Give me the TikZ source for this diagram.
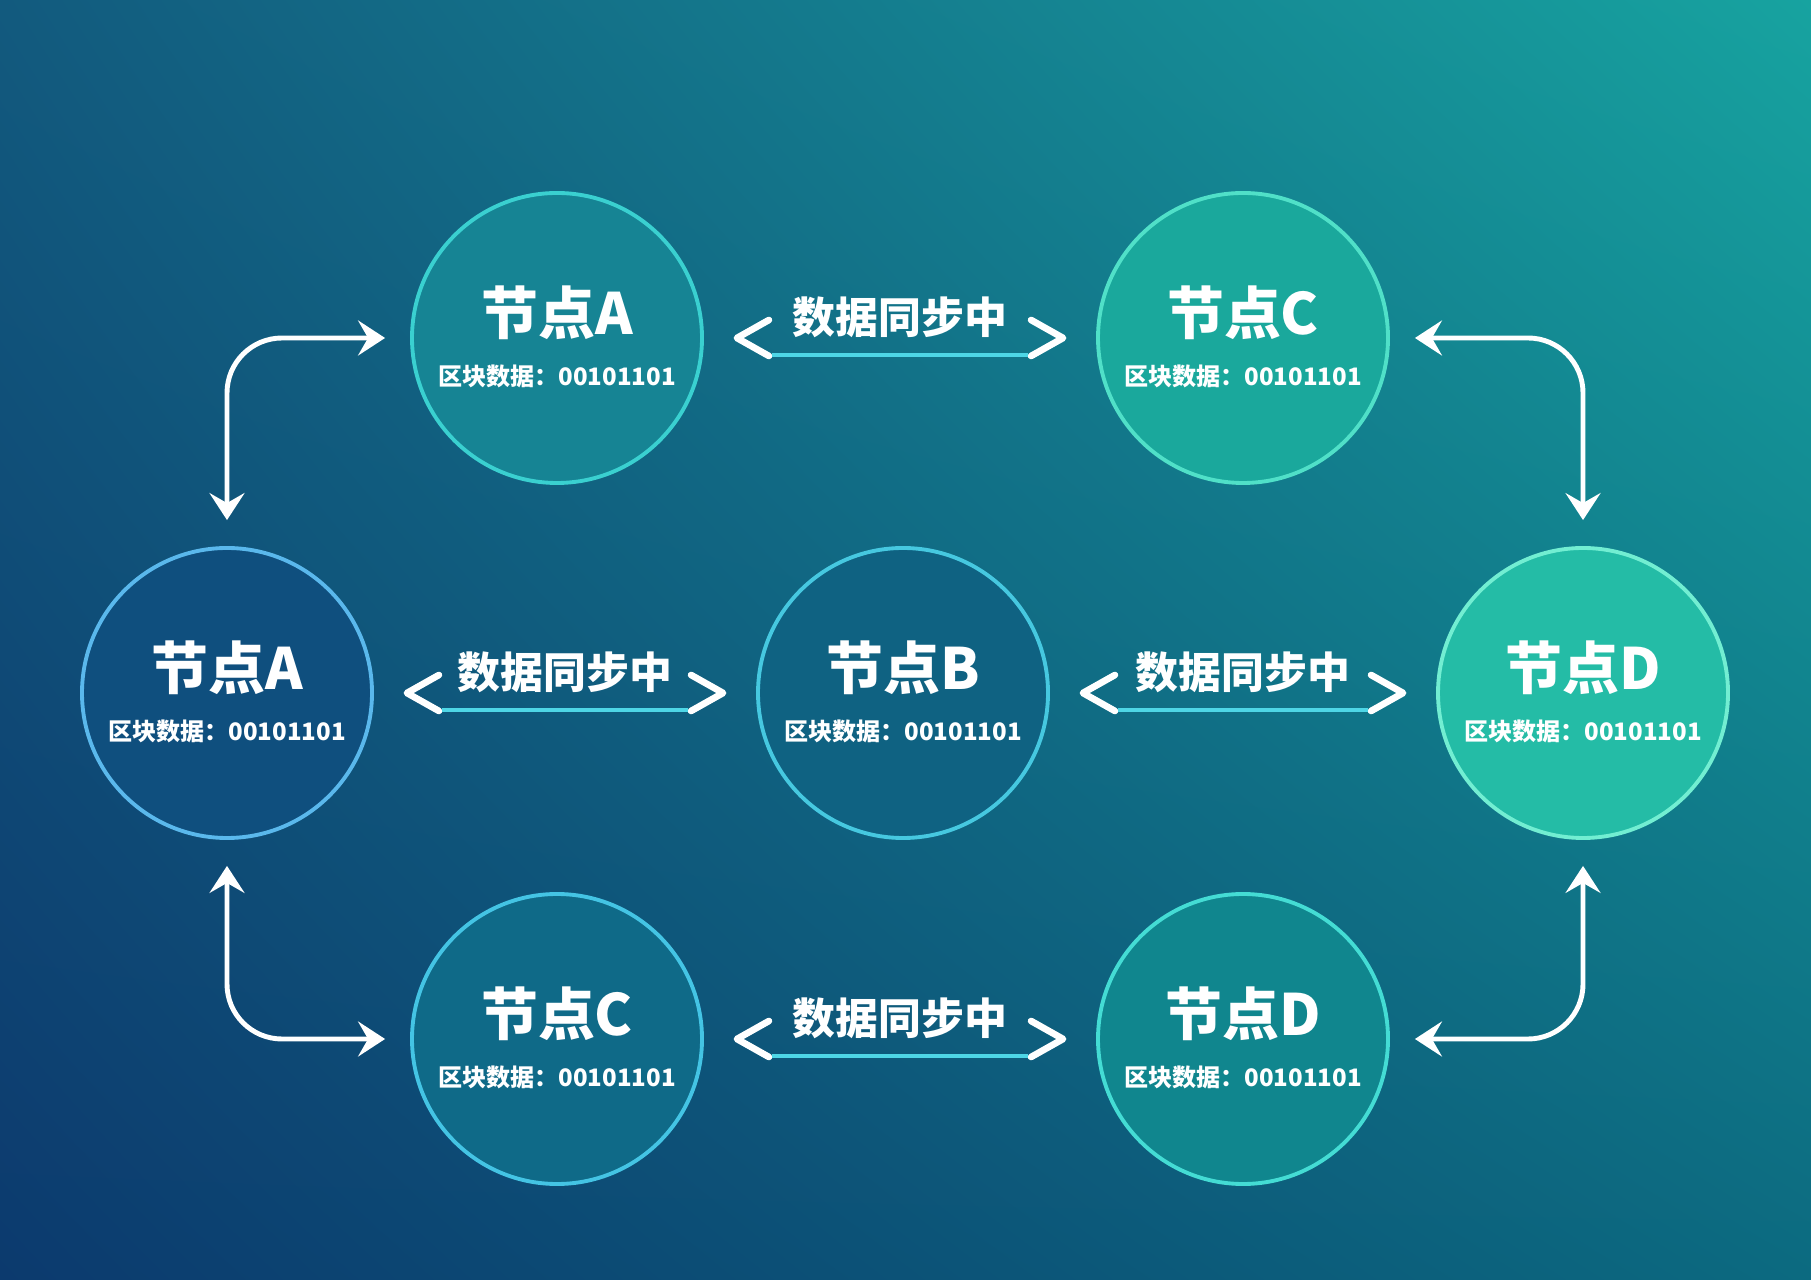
\documentclass[tikz,border=0pt]{standalone}
\usepackage{fontspec}
\newfontfamily\cjk{Noto Sans CJK SC}
\usepackage{tikz}
\usetikzlibrary{arrows.meta,positioning,shadings}
\definecolor{bgtl}{HTML}{125A7E}
\definecolor{bgtr}{HTML}{17A3A0}
\definecolor{bgbl}{HTML}{0C3A6E}
\definecolor{bgbr}{HTML}{0C6A80}
\definecolor{fillTA}{HTML}{168494}
\definecolor{rimTA}{HTML}{3AD0D0}
\definecolor{fillTC}{HTML}{1AA89C}
\definecolor{rimTC}{HTML}{50E0C8}
\definecolor{fillMA}{HTML}{0F4F7E}
\definecolor{rimMA}{HTML}{5AB8EC}
\definecolor{fillMB}{HTML}{0F6282}
\definecolor{rimMB}{HTML}{46C8E0}
\definecolor{fillMD}{HTML}{24BCA6}
\definecolor{rimMD}{HTML}{72EED2}
\definecolor{fillBC}{HTML}{0F6A88}
\definecolor{rimBC}{HTML}{44C4E4}
\definecolor{fillBD}{HTML}{10868E}
\definecolor{rimBD}{HTML}{44DCD4}
\definecolor{syncline}{HTML}{4ED6E6}

\begin{document}
\begin{tikzpicture}[
  peer/.style 2 args={circle,minimum size=2.9cm,inner sep=0pt,fill=#1,draw=#2,line width=1.1pt},
  ttl/.style={text=white,inner sep=0pt,font=\cjk\bfseries\fontsize{16.2}{16.2}\selectfont},
  blockdata/.style={text=white,inner sep=0pt,font=\cjk\bfseries\fontsize{6.85}{6.85}\selectfont},
  syncnote/.style={text=white,inner sep=0pt,font=\cjk\bfseries\fontsize{12.2}{12.2}\selectfont},
  chev/.style={white,line width=1.9pt,line cap=round,line join=round},
  link/.style={white,line width=1.4pt,rounded corners=5.5mm,
    {Stealth[length=2.7mm,width=3.5mm,inset=1mm]}-{Stealth[length=2.7mm,width=3.5mm,inset=1mm]}}]
  \useasboundingbox (0,0) rectangle (18.11,12.79);
  \shade[upper left=bgtl,upper right=bgtr,lower left=bgbl,lower right=bgbr] (0,0) rectangle (18.11,12.79);

  % peers
  \node[peer={fillTA}{rimTA}] (topA) at (5.57,9.41) {};
  \node[peer={fillTC}{rimTC}] (topC) at (12.43,9.41) {};
  \node[peer={fillMA}{rimMA}] (midA) at (2.27,5.86) {};
  \node[peer={fillMB}{rimMB}] (midB) at (9.03,5.86) {};
  \node[peer={fillMD}{rimMD}] (midD) at (15.83,5.86) {};
  \node[peer={fillBC}{rimBC}] (botC) at (5.57,2.40) {};
  \node[peer={fillBD}{rimBD}] (botD) at (12.43,2.40) {};

  \foreach \p/\name in {topA/节点A,topC/节点C,midA/节点A,midB/节点B,midD/节点D,botC/节点C,botD/节点D}{
    \node[ttl] (\p-t) at ([yshift=2.5mm]\p.center) {\name};
    \node[blockdata] (\p-d) at ([yshift=-3.8mm]\p.center) {区块数据：00101101};
  }

  % sync links
  \foreach \a/\b in {topA/topC,midA/midB,midB/midD,botC/botD}{
    \draw[chev] ([xshift=6.5mm,yshift=1.8mm]\a.east) -- ([xshift=3.3mm]\a.east) -- ([xshift=6.5mm,yshift=-1.8mm]\a.east);
    \draw[chev] ([xshift=-6.5mm,yshift=1.8mm]\b.west) -- ([xshift=-3.3mm]\b.west) -- ([xshift=-6.5mm,yshift=-1.8mm]\b.west);
    \draw[syncline,line width=1.1pt] ([xshift=6.8mm,yshift=-1.7mm]\a.east) -- ([xshift=-6.8mm,yshift=-1.7mm]\b.west);
    \path (\a) -- (\b) node[midway,yshift=2.1mm,syncnote] (\a-\b) {数据同步中};
  }

  % corner links
  \draw[link] ([xshift=-2.5mm]topA.west) -| ([yshift=2.6mm]midA.north);
  \draw[link] ([xshift=2.5mm]topC.east) -| ([yshift=2.6mm]midD.north);
  \draw[link] ([xshift=-2.5mm]botC.west) -| ([yshift=-2.6mm]midA.south);
  \draw[link] ([xshift=2.5mm]botD.east) -| ([yshift=-2.6mm]midD.south);
\end{tikzpicture}
\end{document}
